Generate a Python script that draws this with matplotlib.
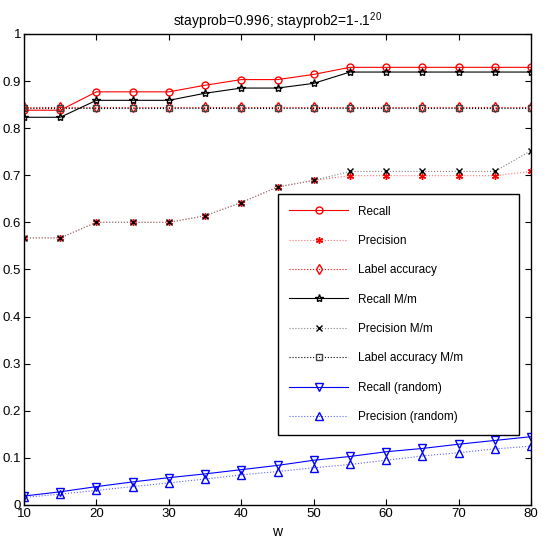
import matplotlib
matplotlib.use('Agg')
import matplotlib.pyplot as plt
import numpy as np

plt.rcParams['font.family'] = ['Liberation Sans', 'DejaVu Sans']
plt.rcParams['mathtext.fontset'] = 'custom'
plt.rcParams['mathtext.rm'] = 'Liberation Sans'

w = [10, 15, 20, 25, 30, 35, 40, 45, 50, 55, 60, 65, 70, 75, 80]

recall = [0.838, 0.838, 0.877, 0.877, 0.877, 0.891, 0.903, 0.903, 0.914, 0.929,
          0.929, 0.929, 0.929, 0.929, 0.929]
precision = [0.567, 0.567, 0.600, 0.600, 0.600, 0.614, 0.642, 0.675, 0.689, 0.699,
             0.699, 0.699, 0.699, 0.699, 0.708]
label_acc = [0.844] * 15
recall_mm = [0.823, 0.823, 0.859, 0.859, 0.859, 0.874, 0.885, 0.885, 0.895, 0.919,
             0.919, 0.919, 0.919, 0.919, 0.919]
precision_mm = [0.567, 0.567, 0.600, 0.600, 0.600, 0.614, 0.642, 0.675, 0.689, 0.708,
                0.708, 0.708, 0.708, 0.708, 0.752]
label_acc_mm = [0.843] * 15
recall_rand = [0.019, 0.028, 0.039, 0.049, 0.058, 0.066, 0.075, 0.084, 0.095, 0.103,
               0.113, 0.120, 0.129, 0.137, 0.145]
precision_rand = [0.016, 0.023, 0.031, 0.039, 0.047, 0.055, 0.064, 0.071, 0.079, 0.086,
                  0.095, 0.104, 0.111, 0.119, 0.125]

fig = plt.figure(figsize=(5.46, 5.44), dpi=100)
ax = fig.add_axes([0.044, 0.0717, 0.9285, 0.866])

ms = 5
lw = 0.8
ax.plot(w, recall, color='red', ls='-', lw=lw, marker='o', mfc='none', ms=ms, label='Recall')
ax.plot(w, precision, color='#ff7070', ls=':', lw=lw, marker=(6, 2, 0), mec='red', ms=ms, label='Precision')
ax.plot(w, label_acc, color='red', ls=':', lw=lw, marker='d', mfc='none', ms=ms, label='Label accuracy')
ax.plot(w, recall_mm, color='black', ls='-', lw=lw, marker='*', mfc='none', ms=ms + 1, label='Recall M/m')
ax.plot(w, precision_mm, color='#808080', ls=':', lw=lw, marker='x', mec='black', ms=4, label='Precision M/m')
ax.plot(w, label_acc_mm, color='black', ls=':', lw=lw, marker='s', mfc='none', mec='#404040', ms=ms, label='Label accuracy M/m')
ax.plot(w, recall_rand, color='blue', ls='-', lw=lw, marker='v', mfc='none', ms=ms + 1, label='Recall (random)')
ax.plot(w, precision_rand, color='#6060ff', ls=':', lw=lw, marker='^', mfc='none', mec='blue', ms=ms + 1, label='Precision (random)')

ax.set_xlim(10, 80)
ax.set_ylim(0, 1)
ax.set_xticks(range(10, 81, 10))
ax.set_yticks(np.arange(0, 1.01, 0.1))
ax.set_yticklabels(['0', '0.1', '0.2', '0.3', '0.4', '0.5', '0.6', '0.7', '0.8', '0.9', '1'])
ax.tick_params(direction='in', top=True, right=True, labelsize=9.5, length=4, pad=2)
for s in ax.spines.values():
    s.set_linewidth(1.0)

ax.set_xlabel('w', fontsize=10, labelpad=4)
ax.set_title(r'stayprob=0.996; stayprob2=1-.1$^{20}$', fontsize=10, pad=6)

leg = ax.legend(loc='lower left', bbox_to_anchor=(0.50, 0.149, 0.476, 0.509), mode='expand',
                fontsize=8.5, handlelength=5, labelspacing=1.47, borderaxespad=0,
                fancybox=False, edgecolor='black', framealpha=1, borderpad=1.0)
leg.get_frame().set_linewidth(1.0)

fig.savefig('out.png', dpi=100)
